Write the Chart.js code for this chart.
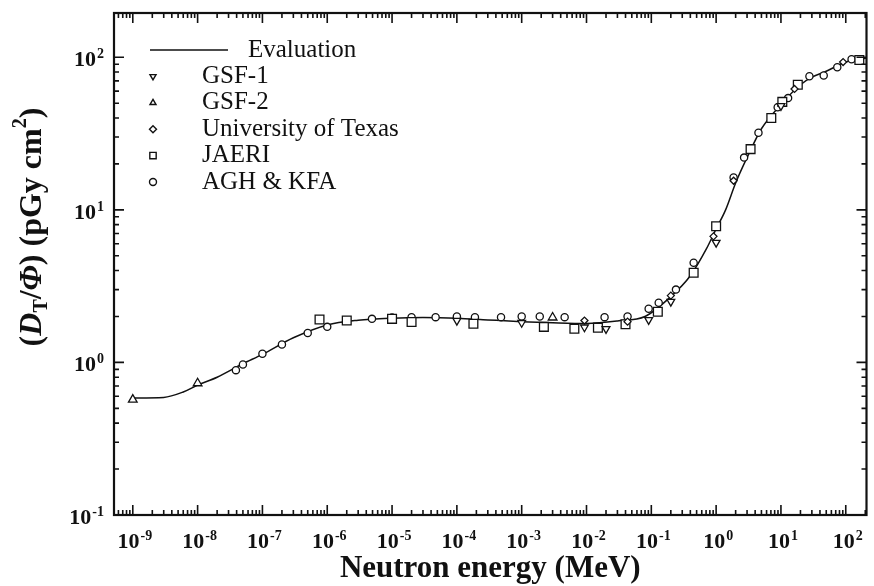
<!DOCTYPE html>
<html>
<head>
<meta charset="utf-8">
<title>Neutron kerma</title>
<script src="https://cdn.jsdelivr.net/npm/chart.js@4.4.0/dist/chart.umd.min.js"></script>
<style>
  html, body { margin: 0; padding: 0; background: #fff; }
  #wrap { width: 874px; height: 586px; position: relative; }
</style>
</head>
<body>
<div id="wrap"><canvas id="chart"></canvas></div>
<script>
// values (energy in MeV, D_T/Phi in pGy cm^2)
const evalEnergy = [1e-9, 3e-9, 6e-9, 1e-8, 2e-8, 5e-8, 1e-7, 3e-7, 1e-6, 3e-6, 1e-5, 3e-5, 1e-4, 3e-4, 1e-3, 3e-3, 1e-2, 3e-2, 0.08, 0.2, 0.4, 0.7, 1.0, 1.4, 2, 3, 5, 10, 20, 30, 50, 100, 210];
const evalDose   = [0.585, 0.59, 0.64, 0.71, 0.8, 0.98, 1.13, 1.45, 1.76, 1.89, 1.95, 1.97, 1.95, 1.9, 1.85, 1.82, 1.8, 1.87, 2.0, 2.7, 3.7, 5.5, 7.5, 10, 15, 22, 34, 49, 66, 74, 81, 93, 99];

const gsf1Energy = [1e-4, 1e-3, 9.3e-3, 2e-2, 9.1e-2, 0.2, 1.0, 10];
const gsf1Dose   = [1.88, 1.82, 1.7, 1.66, 1.9, 2.5, 6.1, 48];

const gsf2Energy = [1e-9, 1e-8, 3e-3];
const gsf2Dose   = [0.57, 0.73, 1.97];

const texasEnergy = [9.3e-3, 4.3e-2, 0.2, 0.91, 1.86, 16.2, 91];
const texasDose   = [1.88, 1.85, 2.74, 6.7, 15.5, 62, 93];

const jaeriEnergy = [7.6e-7, 2.0e-6, 1e-5, 2.0e-5, 1.8e-4, 2.2e-3, 6.5e-3, 1.5e-2, 4.0e-2, 0.126, 0.45, 1.0, 3.4, 7.1, 10.5, 18.2, 162];
const jaeriDose   = [1.91, 1.88, 1.93, 1.84, 1.79, 1.71, 1.66, 1.69, 1.78, 2.15, 3.87, 7.8, 25, 40, 51, 66, 96];

const aghEnergy = [3.9e-8, 5e-8, 1e-7, 2e-7, 5e-7, 1e-6, 4.9e-6, 1e-5, 2e-5, 4.7e-5, 1e-4, 1.9e-4, 4.8e-4, 1e-3, 1.9e-3, 4.6e-3, 1.9e-2, 4.3e-2, 9.1e-2, 0.13, 0.24, 0.45, 1.86, 2.7, 4.5, 8.9, 12.9, 27.5, 45.7, 74, 123];
const aghDose   = [0.89, 0.97, 1.14, 1.31, 1.56, 1.71, 1.93, 1.97, 1.98, 1.98, 2.0, 1.98, 1.98, 2.0, 2.0, 1.98, 1.98, 2.0, 2.25, 2.46, 3.0, 4.5, 16.3, 22, 32, 47, 54, 75, 76, 86, 97];

// tick labels: 10 raised to these exponents
const xExponents = [-9, -8, -7, -6, -5, -4, -3, -2, -1, 0, 1, 2];
const xTickLabels = ['-9', '-8', '-7', '-6', '-5', '-4', '-3', '-2', '-1', '0', '1', '2'];
const yExponents = [-1, 0, 1, 2];
const yTickLabels = ['-1', '0', '1', '2'];

const seriesLabels = ['Evaluation', 'GSF-1', 'GSF-2', 'University of Texas', 'JAERI', 'AGH & KFA'];

const SERIF = "'Liberation Serif', 'Times New Roman', serif";

function pts(xs, ys) {
  return xs.map((x, i) => ({ x: x, y: ys[i] }));
}

// 1..9 x 10^n inside [min, max]
function logTicks(min, max) {
  const out = [];
  for (let e = Math.floor(Math.log10(min)); e <= Math.ceil(Math.log10(max)); e++) {
    for (let k = 1; k <= 9; k++) {
      const v = parseFloat((k * Math.pow(10, e)).toPrecision(3));
      if (v >= min && v <= max) out.push({ value: v });
    }
  }
  return out;
}

function decadeOf(v) {
  const e = Math.round(Math.log10(v));
  return Math.abs(v / Math.pow(10, e) - 1) < 1e-6 ? e : null;
}

function markerSet(label, xs, ys, style, radius, rotation) {
  return {
    label: label,
    data: pts(xs, ys),
    showLine: false,
    pointStyle: style,
    rotation: rotation || 0,
    pointRadius: radius,
    pointBorderWidth: 1.3,
    borderWidth: 1.3,
    borderColor: '#111',
    backgroundColor: '#fff',
    order: 0
  };
}

// "10" with a raised exponent
function drawPower(ctx, exp, x, baseline, align) {
  ctx.font = 'bold 22px ' + SERIF;
  const bw = ctx.measureText('10').width;
  ctx.font = 'bold 14px ' + SERIF;
  const ew = ctx.measureText(exp).width;
  const total = bw + 1 + ew;
  const left = align === 'center' ? x - total / 2 : x - total;
  ctx.textAlign = 'left';
  ctx.textBaseline = 'alphabetic';
  ctx.font = 'bold 22px ' + SERIF;
  ctx.fillText('10', left, baseline);
  ctx.font = 'bold 14px ' + SERIF;
  ctx.fillText(exp, left + bw + 1, baseline - 8);
}

// inward ticks on all four sides, frame, decade labels
const frameTicks = {
  id: 'frameTicks',
  afterDraw(chart) {
    const { ctx, chartArea: a, scales } = chart;
    ctx.save();
    ctx.strokeStyle = '#111';
    ctx.lineWidth = 1.6;
    ctx.beginPath();
    scales.x.ticks.forEach(t => {
      const px = scales.x.getPixelForValue(t.value);
      const len = decadeOf(t.value) !== null ? 10 : 5;
      ctx.moveTo(px, a.bottom); ctx.lineTo(px, a.bottom - len);
      ctx.moveTo(px, a.top); ctx.lineTo(px, a.top + len);
    });
    scales.y.ticks.forEach(t => {
      const py = scales.y.getPixelForValue(t.value);
      const len = decadeOf(t.value) !== null ? 10 : 5;
      ctx.moveTo(a.left, py); ctx.lineTo(a.left + len, py);
      ctx.moveTo(a.right, py); ctx.lineTo(a.right - len, py);
    });
    ctx.stroke();
    ctx.lineWidth = 2.2;
    ctx.strokeRect(a.left, a.top, a.right - a.left, a.bottom - a.top);

    ctx.fillStyle = '#111';
    xExponents.forEach((e, i) => {
      const px = scales.x.getPixelForValue(Math.pow(10, e));
      drawPower(ctx, xTickLabels[i], px + 2, a.bottom + 33, 'center');
    });
    yExponents.forEach((e, i) => {
      const py = scales.y.getPixelForValue(Math.pow(10, e));
      drawPower(ctx, yTickLabels[i], a.left - 10, py + 9, 'right');
    });
    ctx.restore();
  }
};

// legend in upper left of the plot
const insideLegend = {
  id: 'insideLegend',
  afterDraw(chart) {
    const { ctx, chartArea: a } = chart;
    ctx.save();
    ctx.font = '25px ' + SERIF;
    ctx.textBaseline = 'middle';
    ctx.fillStyle = '#111';
    chart.data.datasets.forEach((ds, i) => {
      const y = a.top + 37 + i * 26.4;
      ctx.strokeStyle = '#111';
      if (ds.showLine) {
        ctx.lineWidth = 1.4;
        ctx.beginPath();
        ctx.moveTo(a.left + 36, y);
        ctx.lineTo(a.left + 114, y);
        ctx.stroke();
        ctx.fillText(ds.label, a.left + 134, y);
      } else {
        ctx.fillStyle = '#fff';
        Chart.helpers.drawPoint(ctx, {
          pointStyle: ds.pointStyle,
          rotation: ds.rotation,
          radius: ds.pointStyle === 'rect' ? 4.5 : 3.5,
          borderWidth: 1.3
        }, a.left + 39, y);
        ctx.fillStyle = '#111';
        ctx.fillText(ds.label, a.left + 88, y);
      }
    });
    ctx.restore();
  }
};

// rotated y title with subscript / superscript
const yTitle = {
  id: 'yTitle',
  afterDraw(chart) {
    const ctx = chart.ctx;
    const parts = [
      { t: '(', f: 'bold 32px ' },
      { t: 'D', f: 'italic bold 32px ' },
      { t: 'T', f: 'bold 20px ', dy: 9 },
      { t: '/', f: 'bold 32px ' },
      { t: 'Φ', f: 'italic bold 32px ' },
      { t: ') (pGy cm', f: 'bold 32px ' },
      { t: '2', f: 'bold 20px ', dy: -12 },
      { t: ')', f: 'bold 32px ' }
    ];
    ctx.save();
    ctx.fillStyle = '#111';
    ctx.textBaseline = 'middle';
    let total = 0;
    parts.forEach(p => { ctx.font = p.f + SERIF; p.w = ctx.measureText(p.t).width; total += p.w; });
    ctx.translate(33, 227);
    ctx.rotate(-Math.PI / 2);
    let x = -total / 2;
    parts.forEach(p => {
      ctx.font = p.f + SERIF;
      ctx.fillText(p.t, x, p.dy || 0);
      x += p.w;
    });
    ctx.restore();
  }
};

const X_MIN = Math.pow(10, -9.29), X_MAX = Math.pow(10, 2.32);
const Y_MIN = 0.1, Y_MAX = Math.pow(10, 2.29);

new Chart(document.getElementById('chart'), {
  type: 'scatter',
  data: {
    datasets: [
      {
        label: seriesLabels[0],
        data: pts(evalEnergy, evalDose),
        showLine: true,
        pointRadius: 0,
        borderColor: '#111',
        borderWidth: 1.5,
        cubicInterpolationMode: 'monotone',
        order: 1
      },
      markerSet(seriesLabels[1], gsf1Energy, gsf1Dose, 'triangle', 4.5, 180),
      markerSet(seriesLabels[2], gsf2Energy, gsf2Dose, 'triangle', 5, 0),
      markerSet(seriesLabels[3], texasEnergy, texasDose, 'rectRot', 3.5, 0),
      markerSet(seriesLabels[4], jaeriEnergy, jaeriDose, 'rect', 6.2, 0),
      markerSet(seriesLabels[5], aghEnergy, aghDose, 'circle', 3.6, 0)
    ]
  },
  options: {
    responsive: true,
    maintainAspectRatio: false,
    animation: false,
    layout: { padding: { top: 13, right: 2, left: 0, bottom: 0 } },
    plugins: {
      legend: { display: false },
      tooltip: { enabled: false }
    },
    scales: {
      x: {
        type: 'logarithmic',
        min: X_MIN,
        max: X_MAX,
        afterBuildTicks: scale => { scale.ticks = logTicks(X_MIN, X_MAX); },
        afterFit: scale => { scale.height = 71; scale.paddingLeft = 0; scale.paddingRight = 0; },
        grid: { display: false, drawTicks: false },
        border: { display: false },
        ticks: { display: false, autoSkip: false },
        title: {
          display: true,
          text: 'Neutron energy (MeV)',
          color: '#111',
          font: { family: SERIF, size: 31, weight: 'bold' },
          padding: { top: 0, bottom: -2 }
        }
      },
      y: {
        type: 'logarithmic',
        min: Y_MIN,
        max: Y_MAX,
        afterBuildTicks: scale => { scale.ticks = logTicks(Y_MIN, Y_MAX); },
        afterFit: scale => { scale.width = 114; scale.paddingTop = 0; scale.paddingBottom = 0; },
        grid: { display: false, drawTicks: false },
        border: { display: false },
        ticks: { display: false, autoSkip: false }
      }
    }
  },
  plugins: [frameTicks, insideLegend, yTitle]
});
</script>
</body>
</html>
